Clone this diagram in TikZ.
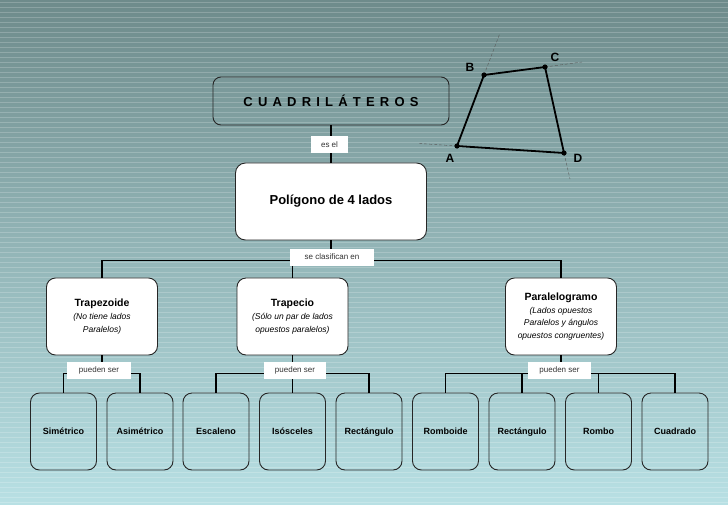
\documentclass[tikz,border=0pt]{standalone}
\usepackage{fontspec}
\setmainfont{Liberation Sans}
\newfontfamily\spacedfont{Liberation Sans}[LetterSpace=40]
\usetikzlibrary{positioning}
\definecolor{bgtop}{HTML}{6E8B8B}
\definecolor{bgmid}{HTML}{8BB0B2}
\definecolor{bgbot}{HTML}{B8E0E4}

\begin{document}
\begin{tikzpicture}[x=1pt,y=-1pt,node distance=18pt]
  \tikzstyle{box}=[draw=black!85,line width=0.9pt,rounded corners=9pt,align=center,inner sep=0pt]
  \tikzstyle{topbox}=[box,minimum width=236pt,minimum height=48pt,rounded corners=8pt,font=\spacedfont\fontsize{13}{15}\selectfont\bfseries]
  \tikzstyle{midbox}=[box,fill=white,minimum width=111pt,minimum height=77pt,font=\fontsize{8.5}{12.8}\selectfont\itshape]
  \tikzstyle{leaf}=[box,minimum width=66pt,minimum height=77pt,text height=7pt,text depth=2pt,font=\fontsize{9}{11}\selectfont\bfseries]
  \tikzstyle{tag}=[fill=white,inner sep=0pt,minimum height=17pt,text=black!80,font=\fontsize{8}{10}\selectfont]
  \tikzstyle{link}=[line width=1.8pt]
  \tikzstyle{vertex}=[font=\fontsize{12}{14}\selectfont\bfseries]
  \newcommand{\ttl}[1]{{\fontsize{10.5}{12}\selectfont\bfseries\upshape #1}}
  \useasboundingbox (0,0) rectangle (728,504);
  % background with stripes
  \shade[top color=bgtop,middle color=bgmid,bottom color=bgbot] (0,0) rectangle (728,504);
  \foreach \yy in {2,7,...,502}
    \draw[white,opacity=0.2,line width=0.8pt] (0,\yy) -- (728,\yy);

  % boxes
  \node[topbox] (cuad) at (331,101) {CUADRILÁTEROS};
  \node[box,fill=white,minimum width=191pt,minimum height=77pt,rounded corners=10pt,font=\fontsize{13}{15}\selectfont\bfseries] (poli) at (331,201.5) {Polígono de 4 lados};
  \node[midbox] (tzoide) at (102,316.5) {\ttl{Trapezoide}\\(No tiene lados\\Paralelos)};
  \node[midbox] (tpecio) at (292.5,316.5) {\ttl{Trapecio}\\(Sólo un par de lados\\opuestos paralelos)};
  \node[midbox] (pgramo) at (561,316.5) {\ttl{Paralelogramo}\\(Lados opuestos\\Paralelos y ángulos\\opuestos congruentes)};
  \foreach \nm/\xx/\txt in {sim/63.5/Simétrico, asim/140/Asimétrico, esc/216/Escaleno,
      iso/292.5/Isósceles, recta/369/Rectángulo, romb/445.5/Romboide,
      rectb/522/Rectángulo, rombo/598.5/Rombo, cuadr/675/Cuadrado}
    \node[leaf] (\nm) at (\xx,431.5) {\txt};

  % joints
  \coordinate[below=20pt of poli] (bra);
  \coordinate[below=of tzoide] (tzjoin);
  \coordinate[below=of tpecio] (tcjoin);
  \coordinate[below=of pgramo] (pgjoin);

  % connectors
  \draw[link] (cuad) -- (poli);
  \draw[link] (poli) -- (bra);
  \draw[link] (tzoide) |- (bra) -| (pgramo);
  \draw[link] (bra -| tpecio) -- (tpecio);
  \draw[link] (tzoide) -- (tzjoin);
  \draw[link] (sim) |- (tzjoin) -| (asim);
  \draw[link] (tpecio) -- (iso);
  \draw[link] (esc) |- (tcjoin) -| (recta);
  \draw[link] (pgramo) -- (pgjoin);
  \draw[link] (romb) |- (pgjoin) -| (cuadr);
  \draw[link] (rectb) -- (rectb |- pgjoin);
  \draw[link] (rombo) -- (rombo |- pgjoin);

  % tags on the lines
  \node[tag,minimum width=37pt] (esel) at (329.5,144.5) {es el};
  \node[tag,minimum width=84pt] (clasif) at (332,257) {se clasifican en};
  \node[tag,minimum width=64pt] (pztag) at (99,370) {pueden ser};
  \node[tag,minimum width=62pt] (pctag) at (295,370) {pueden ser};
  \node[tag,minimum width=63pt] (pgtag) at (559.5,370) {pueden ser};

  % quadrilateral ABCD
  \coordinate (A) at (457,146);
  \coordinate (B) at (484,75);
  \coordinate (C) at (545,67);
  \coordinate (D) at (564,153);
  \coordinate (Ax) at (418,143.4);
  \coordinate (Bx) at (500,33);
  \coordinate (Cx) at (582,62);
  \coordinate (Dx) at (570,179);
  \draw[black!65,line width=0.4pt,densely dashed] (A) -- (Ax) (B) -- (Bx) (C) -- (Cx) (D) -- (Dx);
  \draw[line width=1.8pt,line join=round] (A) -- (B) -- (C) -- (D) -- cycle;
  \foreach \pt in {A,B,C,D}
    \fill (\pt) circle (2.6pt);
  \node[vertex] (labA) at (450,158) {A};
  \node[vertex] (labB) at (470,67) {B};
  \node[vertex] (labC) at (555,57) {C};
  \node[vertex] (labD) at (578,158) {D};
\end{tikzpicture}
\end{document}
